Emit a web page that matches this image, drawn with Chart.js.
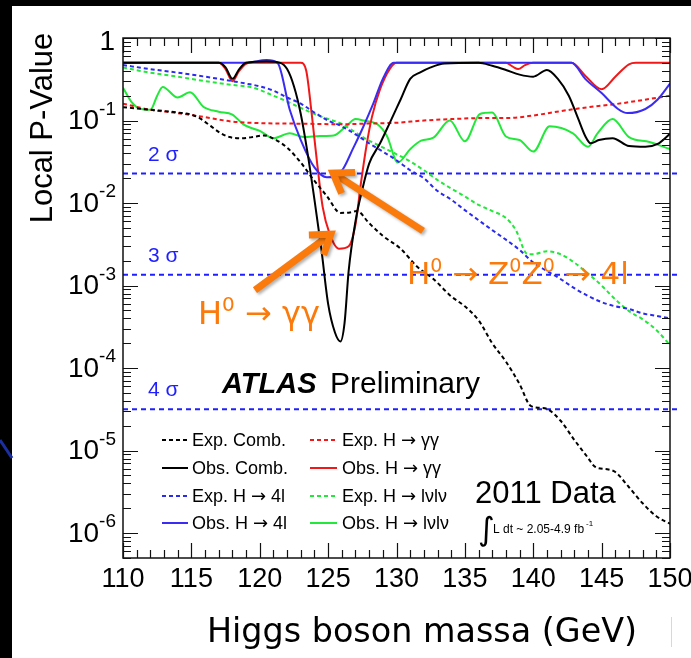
<!DOCTYPE html>
<html>
<head>
<meta charset="utf-8">
<script src="https://cdn.jsdelivr.net/npm/chart.js@4.4.1/dist/chart.umd.min.js"></script>
<style>
  html, body { margin: 0; padding: 0; background: #fff; }
  #wrap { width: 691px; height: 658px; }
</style>
</head>
<body>
<div id="wrap"><canvas id="pvalChart" width="691" height="658"></canvas></div>
<script>
// Local p-value vs Higgs mass, ATLAS 2011
const massRange = [110, 150];
const pRange = [5e-7, 1];
const xTickLabels = ['110', '115', '120', '125', '130', '135', '140', '145', '150'];
const yDecades = [0, -1, -2, -3, -4, -5, -6];

const expCombMass = [110, 112, 114, 115, 115.6, 116.4, 117.1, 117.8, 118.6, 119.5, 120.3, 121.2, 122, 123, 123.9, 124.9, 125.9, 126.6, 127.1, 128, 129, 130.3, 131.5, 132.7, 134, 135, 136, 137, 138, 139, 139.8, 140.5, 141, 142, 143, 144, 144.5, 145.5, 146, 147, 148, 149, 150];
const expCombP = [0.145, 0.135, 0.125, 0.118, 0.107, 0.086, 0.071, 0.063, 0.061, 0.063, 0.066, 0.058, 0.047, 0.031, 0.0195, 0.0122, 0.0076, 0.0077, 0.008, 0.0057, 0.004, 0.0028, 0.0017, 0.0012, 7.4e-4, 5.6e-4, 3.8e-4, 2.0e-4, 1.2e-4, 6.4e-5, 3.5e-5, 3.3e-5, 3.2e-5, 2.3e-5, 1.35e-5, 8.2e-6, 6.4e-6, 5.9e-6, 5.5e-6, 3.6e-6, 2.3e-6, 1.6e-6, 1.3e-6];

const obsCombMass = [110, 117, 117.5, 118, 118.5, 119, 120.5, 121.5, 122, 122.5, 123, 123.5, 124, 124.5, 125, 125.5, 125.9, 126.2, 126.5, 127, 127.5, 128, 128.8, 129.5, 130.3, 131, 131.7, 132.5, 133.5, 136, 137, 138, 139, 140, 141, 141.8, 142.6, 143.3, 143.8, 144.2, 144.8, 145.8, 147, 148.2, 149.1, 150];
const obsCombP = [0.5, 0.5, 0.44, 0.32, 0.42, 0.5, 0.52, 0.5, 0.42, 0.26, 0.12, 0.04, 0.011, 0.0028, 6e-4, 2.7e-4, 2.1e-4, 3.5e-4, 1.5e-3, 6e-3, 0.0146, 0.03, 0.053, 0.093, 0.18, 0.32, 0.38, 0.44, 0.49, 0.5, 0.46, 0.41, 0.36, 0.34, 0.41, 0.32, 0.2, 0.104, 0.065, 0.053, 0.058, 0.061, 0.049, 0.048, 0.052, 0.069];

const exp4lMass = [110, 112, 114, 116, 117, 118, 119, 120, 121, 122, 123, 124, 125, 126, 127, 128, 129, 130, 131, 132, 133, 134, 135, 136, 137, 138, 139, 140, 141, 142, 143, 144, 145, 146, 147, 148, 149, 150];
const exp4lP = [0.47, 0.42, 0.38, 0.34, 0.32, 0.3, 0.28, 0.26, 0.23, 0.19, 0.16, 0.125, 0.1, 0.085, 0.068, 0.053, 0.042, 0.033, 0.025, 0.02, 0.014, 0.011, 0.0082, 0.0062, 0.0047, 0.0036, 0.0027, 0.0019, 0.0015, 0.0012, 9.3e-4, 7.5e-4, 6.3e-4, 5.6e-4, 5.2e-4, 4.6e-4, 4.3e-4, 4.0e-4];

const obs4lMass = [110, 119, 120.5, 121.3, 122.2, 123, 124, 124.9, 125.5, 126.1, 126.8, 127.5, 128.3, 129, 129.8, 142.8, 143.8, 145, 146.2, 146.9, 148.2, 149.1, 150];
const obs4lP = [0.5, 0.5, 0.54, 0.5, 0.134, 0.058, 0.027, 0.0205, 0.021, 0.026, 0.045, 0.079, 0.16, 0.32, 0.5, 0.5, 0.32, 0.215, 0.138, 0.123, 0.138, 0.18, 0.28];

const expGGMass = [110, 112, 114, 116, 118, 120, 122, 124, 126, 128, 130, 132, 134, 136, 138, 140, 142, 144, 146, 148, 150];
const expGGP = [0.16, 0.135, 0.123, 0.11, 0.097, 0.093, 0.092, 0.091, 0.09, 0.092, 0.094, 0.1, 0.104, 0.107, 0.107, 0.115, 0.13, 0.145, 0.158, 0.177, 0.2];

const obsGGMass = [110, 117, 117.5, 118, 118.5, 119.2, 123, 123.4, 123.8, 124.2, 124.6, 125.1, 125.8, 126.5, 127, 127.4, 127.8, 128.2, 128.8, 129.5, 130, 138, 138.5, 138.9, 139.4, 140, 142.8, 143.8, 145, 146, 147, 147.5, 150];
const obsGGP = [0.5, 0.5, 0.42, 0.3, 0.4, 0.5, 0.5, 0.4, 0.12, 0.03, 0.009, 0.0043, 0.0028, 0.003, 0.0055, 0.0175, 0.049, 0.11, 0.24, 0.42, 0.5, 0.5, 0.45, 0.42, 0.47, 0.5, 0.5, 0.35, 0.24, 0.34, 0.48, 0.5, 0.5];

const expLvLvMass = [110, 112, 114, 116, 118, 119.5, 121, 122, 123, 124.4, 126, 127.6, 129.5, 131, 132, 133, 134, 135, 136, 137, 138, 138.7, 139.6, 140, 141, 142, 143, 144, 145, 146, 147, 148, 149, 150];
const expLvLvP = [0.44, 0.38, 0.34, 0.3, 0.27, 0.25, 0.2, 0.17, 0.142, 0.113, 0.091, 0.062, 0.043, 0.032, 0.025, 0.019, 0.015, 0.012, 0.0095, 0.008, 0.0066, 0.0048, 0.0024, 0.0024, 0.0026, 0.0024, 0.0019, 0.0014, 0.001, 6.8e-4, 4.9e-4, 3.9e-4, 2.9e-4, 1.9e-4];

const obsLvLvMass = [110, 110.6, 111.2, 112, 112.5, 112.9, 114, 114.9, 115.9, 117, 118, 118.8, 119.5, 120, 121, 122.2, 123.2, 124.4, 125.4, 126.4, 127, 127.6, 128.6, 129.3, 130.1, 131, 131.8, 132.7, 133.9, 135, 136.1, 137, 138, 139, 140, 141.2, 142.9, 144, 144.7, 145.8, 147, 148.5, 150];
const obsLvLvP = [0.25, 0.17, 0.14, 0.135, 0.2, 0.255, 0.19, 0.22, 0.146, 0.128, 0.118, 0.09, 0.08, 0.075, 0.061, 0.07, 0.063, 0.065, 0.066, 0.088, 0.104, 0.1, 0.09, 0.065, 0.031, 0.045, 0.057, 0.062, 0.1, 0.056, 0.12, 0.125, 0.064, 0.058, 0.042, 0.085, 0.07, 0.048, 0.07, 0.104, 0.063, 0.055, 0.045];

// one-sided significance levels
const sigmaP = [0.02275, 0.00135, 3.17e-5];
const sigmaLabels = ['2 σ', '3 σ', '4 σ'];

// annotation arrows, tail -> tip, in (mass, p)
const arrowTails = [[119.65, 8.8e-4], [131.94, 4.6e-3]];
const arrowTips = [[125.2, 4.2e-3], [125.36, 0.0231]];

const ORANGE = '#fb7a0c';
const SIGMA_BLUE = '#1f1fff';

const pts = (ms, ps) => ms.map((m, i) => ({ x: m, y: ps[i] }));

const series = [
  { label: 'Exp. Comb.', mass: expCombMass, p: expCombP, color: '#000000', dash: [4, 3] },
  { label: 'Obs. Comb.', mass: obsCombMass, p: obsCombP, color: '#000000', dash: [] },
  { label: 'Exp. H → 4l', mass: exp4lMass, p: exp4lP, color: '#2a2af0', dash: [4, 3] },
  { label: 'Obs. H → 4l', mass: obs4lMass, p: obs4lP, color: '#3a2cf2', dash: [] },
  { label: 'Exp. H → γγ', mass: expGGMass, p: expGGP, color: '#f01818', dash: [4, 3] },
  { label: 'Obs. H → γγ', mass: obsGGMass, p: obsGGP, color: '#f01818', dash: [] },
  { label: 'Exp. H → lνlν', mass: expLvLvMass, p: expLvLvP, color: '#22e83a', dash: [4, 3] },
  { label: 'Obs. H → lνlν', mass: obsLvLvMass, p: obsLvLvP, color: '#22e83a', dash: [] }
];

const datasets = series.map(s => ({
  label: s.label,
  data: pts(s.mass, s.p),
  borderColor: s.color,
  borderDash: s.dash,
  borderWidth: 2,
  pointRadius: 0,
  cubicInterpolationMode: 'monotone',
  inLegend: true
}));

sigmaP.forEach(p => {
  datasets.push({
    label: 'sigma',
    data: [{ x: massRange[0], y: p }, { x: 150.6, y: p }],
    borderColor: SIGMA_BLUE,
    borderDash: [5, 4],
    borderWidth: 2,
    pointRadius: 0,
    clip: false,
    inLegend: false
  });
});

function richText(ctx, x, y, parts, family) {
  // parts: [text, size, raise, optional family]
  let cx = x;
  parts.forEach(([t, size, raise, fam]) => {
    ctx.font = size + 'px ' + (fam || family);
    ctx.fillText(t, cx, y - (raise || 0));
    cx += ctx.measureText(t).width;
  });
  return cx - x;
}

function arrow(ctx, x0, y0, x1, y1) {
  const a = Math.atan2(y1 - y0, x1 - x0);
  ctx.beginPath();
  ctx.moveTo(x0, y0);
  ctx.lineTo(x1 - 3 * Math.cos(a), y1 - 3 * Math.sin(a));
  ctx.stroke();
  ctx.beginPath();
  ctx.moveTo(x1 - 22 * Math.cos(a - 0.6), y1 - 22 * Math.sin(a - 0.6));
  ctx.lineTo(x1, y1);
  ctx.lineTo(x1 - 22 * Math.cos(a + 0.6), y1 - 22 * Math.sin(a + 0.6));
  ctx.stroke();
}

const decor = {
  id: 'decor',
  beforeDraw(chart) {
    const ctx = chart.ctx;
    const W = chart.width, H = chart.height;
    ctx.save();
    ctx.fillStyle = '#fff';
    ctx.fillRect(0, 0, W, H);
    ctx.fillStyle = '#000';
    ctx.fillRect(0, 0, W, 6);
    ctx.fillRect(0, 0, 12, H);
    ctx.strokeStyle = '#1c2fa0';
    ctx.lineWidth = 3;
    ctx.beginPath(); ctx.moveTo(0, 440); ctx.lineTo(12, 458); ctx.stroke();
    ctx.strokeStyle = '#d8d8d8';
    ctx.lineWidth = 1;
    ctx.beginPath(); ctx.moveTo(671.5, 617); ctx.lineTo(671.5, 647); ctx.stroke();
    ctx.restore();
  },
  afterDraw(chart) {
    const ctx = chart.ctx;
    const a = chart.chartArea;
    const xs = chart.scales.x, ys = chart.scales.y;
    const F = "'Liberation Sans', Arial, sans-serif";
    ctx.save();

    // frame
    ctx.strokeStyle = '#111';
    ctx.lineWidth = 1.5;
    ctx.strokeRect(a.left, a.top, a.right - a.left, a.bottom - a.top);

    // x ticks (bottom and top, inward)
    ctx.lineWidth = 1.2;
    ctx.beginPath();
    for (let m = massRange[0]; m <= massRange[1]; m++) {
      const px = Math.round(xs.getPixelForValue(m)) + 0.5;
      const len = m % 5 === 0 ? 15 : 8;
      ctx.moveTo(px, a.bottom); ctx.lineTo(px, a.bottom - len);
      ctx.moveTo(px, a.top); ctx.lineTo(px, a.top + len);
    }
    // y ticks (left and right, inward)
    for (let d = -7; d <= 0; d++) {
      for (let k = 1; k <= 9; k++) {
        const v = k * Math.pow(10, d);
        if (v < pRange[0] || v > pRange[1]) continue;
        const py = Math.round(ys.getPixelForValue(v)) + 0.5;
        const len = k === 1 ? 15 : 8;
        ctx.moveTo(a.left, py); ctx.lineTo(a.left + len, py);
        ctx.moveTo(a.right, py); ctx.lineTo(a.right - len, py);
      }
    }
    ctx.stroke();

    // x tick labels
    ctx.fillStyle = '#000';
    ctx.font = '27px ' + F;
    ctx.textAlign = 'center';
    ctx.textBaseline = 'alphabetic';
    xTickLabels.forEach(t => {
      ctx.fillText(t, xs.getPixelForValue(Number(t)), 587);
    });

    // y tick labels with superscript exponents
    ctx.textAlign = 'left';
    ctx.textBaseline = 'middle';
    yDecades.forEach(d => {
      const py = ys.getPixelForValue(Math.pow(10, d));
      if (d === 0) {
        ctx.font = '28px ' + F;
        const w = ctx.measureText('1').width;
        ctx.fillText('1', 115 - w, py + 4);
        return;
      }
      ctx.font = '28px ' + F;
      const wb = ctx.measureText('10').width;
      ctx.font = '19px ' + F;
      const e = '-' + (-d);
      const we = ctx.measureText(e).width;
      const x0 = 116 - wb - we;
      ctx.font = '28px ' + F;
      ctx.fillText('10', x0, py + 1);
      ctx.font = '19px ' + F;
      ctx.fillText(e, x0 + wb, py - 11);
    });

    // axis titles
    ctx.save();
    ctx.translate(52, 128);
    ctx.rotate(-Math.PI / 2);
    ctx.textAlign = 'center';
    ctx.textBaseline = 'alphabetic';
    ctx.font = '31px ' + F;
    ctx.fillText('Local P-Value', 0, 0);
    ctx.restore();

    ctx.textAlign = 'center';
    ctx.textBaseline = 'alphabetic';
    ctx.font = "32px 'DejaVu Sans', sans-serif";
    const title = 'Higgs boson massa (GeV)';
    const tw = ctx.measureText(title).width;
    const ts = 32 * 430 / tw;
    ctx.font = ts.toFixed(1) + "px 'DejaVu Sans', sans-serif";
    ctx.fillText(title, 422, 642);

    // sigma labels
    ctx.textAlign = 'left';
    ctx.fillStyle = SIGMA_BLUE;
    ctx.font = '21px ' + F;
    sigmaP.forEach((p, i) => {
      ctx.fillText(sigmaLabels[i], 148, ys.getPixelForValue(p) - 13);
    });

    // ATLAS Preliminary
    ctx.fillStyle = '#000';
    ctx.font = 'italic bold 29px ' + F;
    ctx.fillText('ATLAS', 222, 393);
    ctx.font = '30px ' + F;
    ctx.fillText('Preliminary', 330, 393);

    // 2011 Data and luminosity
    ctx.font = '31px ' + F;
    ctx.fillText('2011 Data', 475, 503);
    ctx.font = "32px 'DejaVu Sans', sans-serif";
    ctx.fillText('∫', 478, 540);
    const lw = richText(ctx, 493, 533, [['L dt ~ 2.05-4.9 fb', 12, 0]], F);
    richText(ctx, 493 + lw + 2, 533, [['-1', 8, 7]], F);

    // legend
    const rows = [440, 468, 496, 523];
    const cols = [[162, 188, 192], [310, 337, 342]];
    ctx.textBaseline = 'middle';
    chart.data.datasets.filter(ds => ds.inLegend).forEach((ds, i) => {
      const c = cols[Math.floor(i / 4)];
      const y = rows[i % 4];
      ctx.strokeStyle = ds.borderColor;
      ctx.lineWidth = 2;
      ctx.setLineDash(ds.borderDash);
      ctx.beginPath(); ctx.moveTo(c[0], y); ctx.lineTo(c[1], y); ctx.stroke();
      ctx.setLineDash([]);
      ctx.fillStyle = '#000';
      const bits = ds.label.split('→');
      if (bits.length === 1) {
        richText(ctx, c[2], y + 1, [[ds.label, 18]], F);
      } else {
        richText(ctx, c[2], y + 1, [[bits[0], 18], ['→', 18, 0, "'DejaVu Sans', sans-serif"], [bits[1], 18]], F);
      }
    });

    // orange annotations
    ctx.textBaseline = 'alphabetic';
    ctx.fillStyle = ORANGE;
    const OF = "'DejaVu Sans', sans-serif";
    richText(ctx, 198, 324, [['H', 32, 0], ['0', 20, 13], [' → γγ', 32, 0]], OF);
    richText(ctx, 407, 284, [['H', 31, 0], ['0', 19, 12], [' → Z', 31, 0], ['0', 19, 12], ['Z', 31, 0], ['0', 19, 12], [' → 4l', 31, 0]], OF);

    ctx.strokeStyle = ORANGE;
    ctx.lineWidth = 7;
    ctx.lineCap = 'butt';
    ctx.lineJoin = 'miter';
    ctx.shadowColor = 'rgba(0,0,0,0.3)';
    ctx.shadowBlur = 3;
    ctx.shadowOffsetX = 2;
    ctx.shadowOffsetY = 2;
    arrowTails.forEach((t, i) => {
      const tip = arrowTips[i];
      arrow(ctx, xs.getPixelForValue(t[0]), ys.getPixelForValue(t[1]),
        xs.getPixelForValue(tip[0]), ys.getPixelForValue(tip[1]));
    });

    ctx.restore();
  }
};

new Chart(document.getElementById('pvalChart'), {
  type: 'line',
  data: { datasets },
  options: {
    responsive: false,
    animation: false,
    layout: { padding: { left: 123, top: 38, right: 21, bottom: 100 } },
    scales: {
      x: { type: 'linear', min: massRange[0], max: massRange[1], display: false },
      y: { type: 'logarithmic', min: pRange[0], max: pRange[1], display: false }
    },
    plugins: {
      legend: { display: false },
      tooltip: { enabled: false }
    }
  },
  plugins: [decor]
});
</script>
</body>
</html>
